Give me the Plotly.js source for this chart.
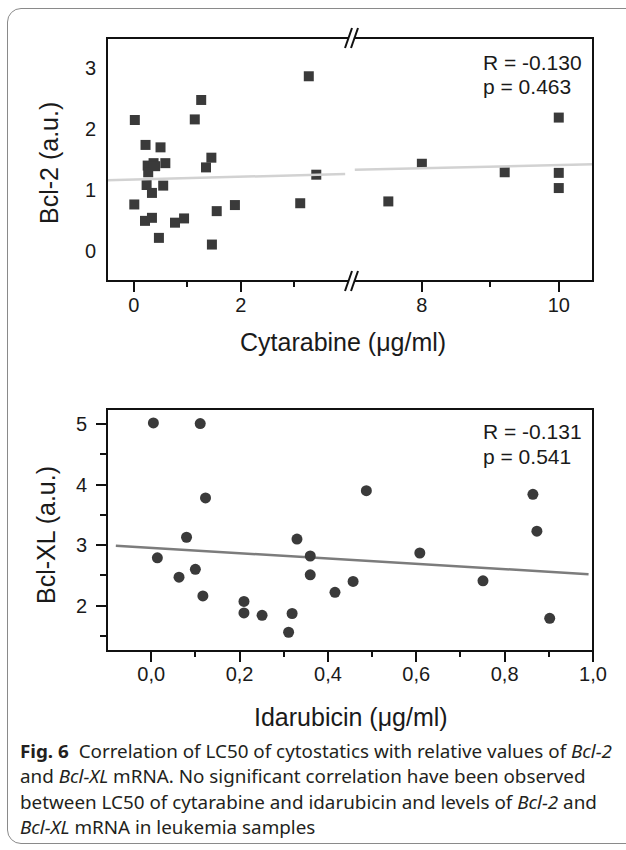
<!DOCTYPE html>
<html>
<head>
<meta charset="utf-8">
<script src="https://cdn.plot.ly/plotly-3.0.1.min.js"></script>
<style>
  html, body { margin: 0; padding: 0; background: #fff; }
  body { width: 626px; height: 850px; overflow: hidden; position: relative; }
  #frame { position: absolute; left: 7px; top: 8px; width: 640px; height: 836px;
           border: 1.5px solid #8a8a8a; border-radius: 14px; box-sizing: border-box; }
  #chart { position: absolute; left: 0; top: 0; width: 626px; height: 850px; }
  #cap { position: absolute; left: 20px; top: 739px; font-family: 'Noto Sans', 'Open Sans', sans-serif;
         font-size: 18px; line-height: 25.4px; color: #231f20; white-space: nowrap; transform-origin: 0 0; }
  #cap span.l { display: inline-block; }
</style>
</head>
<body>
<div id="frame"></div>
<div id="chart"></div>
<div id="cap"><span class="l" id="l1"><b>Fig. 6</b>&nbsp; Correlation of LC50 of cytostatics with relative values of <i>Bcl-2</i></span><br><span class="l">and <i>Bcl-XL</i> mRNA. No significant correlation have been observed</span><br><span class="l">between LC50 of cytarabine and idarubicin and levels of <i>Bcl-2</i> and</span><br><span class="l"><i>Bcl-XL</i> mRNA in leukemia samples</span></div>
<script>
// ---- Data: Cytarabine LC50 vs Bcl-2 ----
const cytX = [0.02,0.01,0.22,0.50,0.26,0.37,0.27,0.40,0.59,0.24,0.55,0.34,0.21,0.34,0.47,0.77,0.94,1.14,1.26,1.35,1.45,1.55,1.46,1.89,3.11,3.27,3.41,7.51,8.0,9.21,10.0,10.0,10.0];
const cytY = [2.15,0.76,1.74,1.70,1.40,1.44,1.29,1.39,1.44,1.08,1.07,0.95,0.49,0.54,0.21,0.46,0.53,2.16,2.48,1.37,1.53,0.65,0.10,0.75,0.78,2.87,1.25,0.81,1.43,1.29,2.19,1.28,1.03];
const cytFitLeftX = [-0.5, 3.95];
const cytFitLeftY = [1.16, 1.26];
const cytFitRightX = [7.02, 10.5];
const cytFitRightY = [1.33, 1.42];
const cytTicksLeft = [0, 2];
const cytTicksRight = [8, 10];
const cytStats = ["R = -0.130", "p = 0.463"];

// ---- Data: Idarubicin LC50 vs Bcl-XL ----
const idaX = [0.005,0.111,0.123,0.080,0.014,0.100,0.063,0.117,0.210,0.210,0.251,0.319,0.311,0.330,0.360,0.360,0.416,0.457,0.487,0.608,0.751,0.864,0.873,0.902];
const idaY = [5.02,5.01,3.78,3.13,2.79,2.60,2.47,2.16,2.07,1.88,1.84,1.87,1.56,3.10,2.82,2.51,2.22,2.40,3.90,2.87,2.41,3.84,3.23,1.79];
const idaFitX = [-0.08, 0.99];
const idaFitY = [2.99, 2.52];
const idaTicksX = [0, 0.2, 0.4, 0.6, 0.8, 1.0];
const idaTicksY = [2, 3, 4, 5];
const idaStats = ["R = -0.131", "p = 0.541"];

// ---- Layout helpers (page pixels -> paper fractions) ----
const W = 626, H = 850;
const X = px => px / W;
const Y = py => 1 - py / H;
const BREAK = 350;
const TOP = {l: 107, r: 593, t: 38, b: 281};
const BOT = {l: 107, r: 593, t: 409, b: 651};

const ink = '#111111';
const markerCol = '#3a3a3a';
const tickFont = {family: 'Arial', size: 20, color: '#1a1a1a'};
const statFont = {family: 'Arial', size: 21, color: '#1a1a1a'};
const titleFont = {family: 'Arial', size: 25, color: '#1a1a1a'};

const leftIdx = cytX.map((v, i) => i).filter(i => cytX[i] < 5);
const rightIdx = cytX.map((v, i) => i).filter(i => cytX[i] >= 5);

const traces = [
  {x: leftIdx.map(i => cytX[i]), y: leftIdx.map(i => cytY[i]), xaxis: 'x', yaxis: 'y', type: 'scatter', mode: 'markers',
   marker: {symbol: 'square', size: 10, color: markerCol}},
  {x: rightIdx.map(i => cytX[i]), y: rightIdx.map(i => cytY[i]), xaxis: 'x2', yaxis: 'y', type: 'scatter', mode: 'markers',
   marker: {symbol: 'square', size: 10, color: markerCol}},
  {x: cytFitLeftX, y: cytFitLeftY, xaxis: 'x', yaxis: 'y', type: 'scatter', mode: 'lines', line: {color: '#d2d2d2', width: 2.5}},
  {x: cytFitRightX, y: cytFitRightY, xaxis: 'x2', yaxis: 'y', type: 'scatter', mode: 'lines', line: {color: '#d2d2d2', width: 2.5}},
  {x: idaFitX, y: idaFitY, xaxis: 'x3', yaxis: 'y3', type: 'scatter', mode: 'lines', line: {color: '#7c7c7c', width: 2.5}},
  {x: idaX, y: idaY, xaxis: 'x3', yaxis: 'y3', type: 'scatter', mode: 'markers',
   marker: {symbol: 'circle', size: 11, color: markerCol}}
];

const baseAx = {showgrid: false, zeroline: false, showline: false, tickfont: tickFont, tickcolor: ink,
                ticks: 'outside', ticklen: 10, tickwidth: 2, fixedrange: true};

const layout = {
  width: W, height: H, margin: {l: 0, r: 0, t: 0, b: 0},
  paper_bgcolor: 'rgba(0,0,0,0)', plot_bgcolor: 'rgba(0,0,0,0)',
  showlegend: false, separators: ', ',
  font: {family: 'Arial'},
  xaxis: Object.assign({}, baseAx, {domain: [X(TOP.l), X(BREAK)], range: [-0.5, 4.04], anchor: 'y',
    tickmode: 'array', tickvals: cytTicksLeft, ticklabelstandoff: -4,
    minor: {tickmode: 'array', tickvals: [1, 3], ticks: 'outside', ticklen: 5, tickwidth: 2, tickcolor: ink}}),
  xaxis2: Object.assign({}, baseAx, {domain: [X(BREAK), X(TOP.r)], range: [6.95, 10.5], anchor: 'y',
    tickmode: 'array', tickvals: cytTicksRight, ticklabelstandoff: -4,
    minor: {tickmode: 'array', tickvals: [9], ticks: 'outside', ticklen: 5, tickwidth: 2, tickcolor: ink}}),
  yaxis: Object.assign({}, baseAx, {domain: [Y(TOP.b), Y(TOP.t)], range: [-0.5, 3.5], anchor: 'x',
    tickmode: 'array', tickvals: [0, 1, 2, 3], ticks: '', ticklabelstandoff: 10}),
  xaxis3: Object.assign({}, baseAx, {domain: [X(BOT.l), X(BOT.r)], range: [-0.1, 1.0], anchor: 'y3',
    tickmode: 'array', tickvals: idaTicksX, tickformat: '.1f', ticklabelstandoff: -5,
    minor: {tickmode: 'array', tickvals: [0.1, 0.3, 0.5, 0.7, 0.9], ticks: 'outside', ticklen: 5, tickwidth: 2, tickcolor: ink}}),
  yaxis3: Object.assign({}, baseAx, {domain: [Y(BOT.b), Y(BOT.t)], range: [1.25, 5.25], anchor: 'x3',
    tickmode: 'array', tickvals: idaTicksY, ticklabelstandoff: 5,
    minor: {tickmode: 'array', tickvals: [1.5, 2.5, 3.5, 4.5], ticks: 'outside', ticklen: 6, tickwidth: 2, tickcolor: ink}}),
  shapes: [],
  annotations: []
};

// frames
const ln = (x0, y0, x1, y1, col, w) => ({type: 'line', xref: 'paper', yref: 'paper',
  x0: X(x0), y0: Y(y0), x1: X(x1), y1: Y(y1), line: {color: col || ink, width: w || 2}});
layout.shapes.push(ln(TOP.l, TOP.t, TOP.r, TOP.t), ln(TOP.l, TOP.b, TOP.r, TOP.b),
                   ln(TOP.l, TOP.t - 1, TOP.l, TOP.b + 1), ln(TOP.r, TOP.t - 1, TOP.r, TOP.b + 1));
layout.shapes.push(ln(BOT.l, BOT.t, BOT.r, BOT.t), ln(BOT.l, BOT.b, BOT.r, BOT.b),
                   ln(BOT.l, BOT.t - 1, BOT.l, BOT.b + 1), ln(BOT.r, BOT.t - 1, BOT.r, BOT.b + 1));
// axis break marks
[TOP.t, TOP.b].forEach(yy => {
  layout.shapes.push({type: 'rect', xref: 'paper', yref: 'paper', x0: X(349), x1: X(354.5), y0: Y(yy - 3), y1: Y(yy + 3),
    line: {width: 0}, fillcolor: '#ffffff'});
  layout.shapes.push(ln(345, yy + 10, 352, yy - 10, ink, 2), ln(351, yy + 10, 358, yy - 10, ink, 2));
});

// annotations
const ann = (text, px, py, opts) => Object.assign({text: text, xref: 'paper', yref: 'paper', x: X(px), y: Y(py),
  showarrow: false, xanchor: 'left', yanchor: 'middle', font: statFont}, opts || {});
layout.annotations.push(ann(cytStats[0], 481, 62), ann(cytStats[1], 481, 86));
layout.annotations.push(ann(idaStats[0], 481, 432), ann(idaStats[1], 481, 457));
layout.annotations.push(ann('Cytarabine (μg/ml)', 343, 342, {xanchor: 'center', font: titleFont}));
layout.annotations.push(ann('Idarubicin (μg/ml)', 351, 717, {xanchor: 'center', font: titleFont}));
layout.annotations.push(ann('Bcl-2 (a.u.)', 49, 163, {xanchor: 'center', textangle: -90, font: titleFont}));
layout.annotations.push(ann('Bcl-XL (a.u.)', 46, 535, {xanchor: 'center', textangle: -90, font: titleFont}));

Plotly.newPlot('chart', traces, layout, {staticPlot: true, displayModeBar: false});

// fit caption width to the reference column width
const l1 = document.getElementById('l1');
const s = 592 / l1.getBoundingClientRect().width;
document.getElementById('cap').style.transform = 'scaleX(' + s + ')';
</script>
</body>
</html>
